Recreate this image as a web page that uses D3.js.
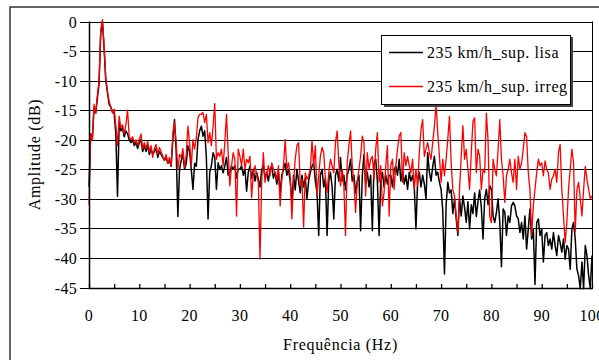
<!DOCTYPE html>
<html><head><meta charset="utf-8">
<script src="https://cdn.jsdelivr.net/npm/d3@7"></script>
<style>html,body{margin:0;padding:0;background:#fff;}svg{display:block;}</style>
</head><body>
<svg id="chart" width="599" height="360"></svg>
<script>
const freqStep = 1/3; // Hz between samples
const seriesNames = ["235 km/h_sup. lisa", "235 km/h_sup. irreg"];
const xTicks = [0,10,20,30,40,50,60,70,80,90,100];
const yTicks = [0,-5,-10,-15,-20,-25,-30,-35,-40,-45];
const xLabel = "Frequência (Hz)";
const yLabel = "Amplitude (dB)";

const lisa = [
-28,-19,-20,-14.5,-15.5,-13,-10.5,-2,0,-4.5,-10,-12,-14,-14.5,-15.2,-15.5,-19,-29.6,-17,-18.5,-18,-19.5,-18.5,-19,-20,-20.5,-20,-21,-20.5,-21.5,
-20.5,-20,-22,-21,-22,-21,-22.5,-21.5,-22.5,-22,-21.5,-23,-22,-22.5,-23,-23.5,-23,-24,-23.5,-24.5,-20,-16.6,-22,-33,-25,-23.5,-22.5,-25,-24,-21,
-22,-25,-28.4,-24,-24.5,-20,-18.5,-17.7,-19.4,-18.5,-23,-33.4,-25.5,-24.4,-22.2,-23,-28.4,-23.9,-25,-24.4,-25.6,-24.4,-23,-26,-25.5,-24.4,-25,-24.4,-26.5,-25,
-25,-24.4,-26,-25,-28.7,-25.5,-24.5,-26.5,-25,-27,-25.5,-26.7,-28,-25,-24.4,-26.5,-25.5,-27,-25,-24.5,-26.5,-25.5,-27.5,-25.5,-29,-26,-25,-24,-26,-25,
-27,-30.5,-26,-28.5,-25,-27,-29,-26,-28,-26.5,-30,-27,-25.5,-24.5,-23.9,-27,-29,-36.2,-26,-25,-28,-26.5,-36.2,-27,-25.5,-28,-33.4,-26,-25,-27,
-23,-27,-26,-28.5,-26,-25,-23.3,-27,-26,-29,-27,-26,-35.4,-26,-22.5,-27.5,-25.5,-28,-26,-35.4,-24,-23.3,-27,-36.2,-27,-25.5,-28,-26,-27.5,-26,
-26,-28,-25,-24.5,-26,-23.3,-27,-25,-27.5,-26,-28.4,-25.5,-27,-26,-28,-35.1,-27,-25.5,-28,-26,-27.5,-30,-22.2,-25.5,-27,-24.5,-22.8,-26,-25.5,-27.2,
-28.4,-32,-42.7,-31,-27.2,-29,-28.5,-32.5,-30,-33.4,-36.2,-30,-32.9,-29.5,-31.5,-34,-30.5,-35.1,-31,-32.5,-29,-33,-30.5,-28.5,-31.5,-36.8,-30,-28.4,-31,-27.8,
-28.4,-32.9,-34,-32.3,-30,-34,-41.5,-31.7,-32.3,-36.2,-32.9,-34,-31.2,-30.6,-31.2,-32.9,-33.4,-35.7,-34,-36.8,-32.9,-38.5,-35.1,-31.7,-36.8,-35.1,-44.5,-34,-33.4,-36.2,
-35.1,-40.7,-36.2,-35.7,-37.9,-36.8,-38.5,-35.7,-37.9,-39.6,-36.2,-37.4,-39,-36.8,-40.2,-37.9,-38.5,-41.9,-35.1,-34,-36.8,-41.9,-43,-45.2,-40.7,-45.2,-37.9,-39.6,-43,-45.2,-39.6
];

const irreg = [
-31,-19,-20,-14,-15.5,-12.5,-10,-1.5,0.3,-4,-9.5,-11.8,-13.5,-14.5,-15.5,-14.8,-17.5,-21,-16,-18,-17.5,-19,-17.5,-15,-19.5,-20,-19.5,-20.5,-20,-21,
-20,-19,-21.5,-20.5,-21.5,-20.3,-22,-21,-23,-21.5,-20.8,-22.5,-21.3,-22,-22.8,-23.5,-22.5,-24,-23,-24.4,-19,-17,-20.5,-25,-22.5,-23,-21.5,-24.7,-22.5,-17.7,
-20.5,-24.4,-20,-21.6,-19.7,-16.3,-15.7,-15.7,-15.4,-17.1,-15.7,-20.5,-18.8,-21,-17.7,-13.9,-23.3,-22.2,-22.8,-21.6,-24.4,-20.5,-15.7,-22.2,-27.8,-24.4,-22.2,-23.3,-32.9,-21.6,
-22.8,-24.4,-21.6,-25,-23.3,-23.9,-22.8,-29.8,-25.6,-24.4,-26.1,-27.2,-40.2,-27.2,-22.2,-27.2,-25.6,-24.4,-26.1,-23.9,-25,-25.6,-26.7,-24.4,-31.2,-26.7,-24.4,-20,-25,-23.9,
-26.1,-33.4,-27.2,-23.3,-21,-20.5,-27.8,-26.7,-34.8,-25.6,-26.7,-26.1,-25,-20.2,-24.4,-21,-29.5,-26.1,-22.8,-21.3,-22.2,-26.7,-28.9,-25.6,-23.3,-24.4,-25.6,-20.5,-18.5,-23.9,
-27.8,-25,-27.8,-36.2,-23.9,-21,-18.5,-24.4,-27.2,-32.3,-27.2,-25,-22.8,-19.4,-20.5,-29.5,-22.2,-25,-23.3,-22.8,-26.7,-21.6,-18.8,-27.2,-24.4,-31.2,-28.9,-24.4,-21,-32.9,
-24.4,-23.3,-28.4,-24.4,-21.6,-19.4,-18.8,-27.2,-22.2,-24.4,-22.8,-24.4,-25.6,-23.3,-28.4,-25,-27.8,-22.2,-18.3,-16.6,-22.8,-21.6,-20.5,-22.2,-23.3,-20.5,-17.7,-14,-18.8,-22.8,
-27.2,-23.3,-26.1,-23.3,-19.9,-16,-23.9,-28.4,-29.5,-32.9,-35.7,-28.4,-22.8,-17.6,-23.3,-21.6,-25,-28.4,-22.2,-16.9,-16.3,-25.6,-21.6,-22.8,-28.4,-25,-25.6,-15.5,-20,-33,
-34,-23.3,-25,-26.1,-21.6,-16.6,-23.3,-26.1,-30.6,-26.1,-25,-23.3,-25.6,-27.2,-23.3,-28.4,-22.8,-25,-23.9,-21.6,-18.8,-19.5,-25.6,-28.4,-36.2,-31.2,-28.4,-25.6,-23.3,-24.4,
-23.9,-26.1,-23.6,-25,-25.6,-28.4,-26.7,-26.1,-25,-27.2,-22.2,-20.8,-28.4,-32.9,-37.4,-34,-28.4,-25,-21.6,-23.9,-35.7,-28.4,-27.2,-30,-32.9,-28.4,-24.5,-26.7,-28.4,-30,-29.5
];

const seriesColors = ["#000000", "#ff0000"];
const font = "'Liberation Serif','Times New Roman','DejaVu Serif',serif";

const svg = d3.select("#chart");
const plot = {left: 89, right: 592, top: 21.5, bottom: 287.5};

// outer frame
svg.append("rect").attr("x", 10).attr("y", 7).attr("width", 620).attr("height", 380)
  .attr("fill", "#fff").attr("stroke", "#333").attr("stroke-width", 1.5);

const x = d3.scaleLinear().domain([0, 100]).range([plot.left, plot.right]);
const y = d3.scaleLinear().domain([-45, 0]).range([plot.bottom, plot.top]);

// gridlines + y ticks
const gy = svg.append("g");
yTicks.forEach(t => {
  const yy = Math.round(y(t)) + 0.5;
  gy.append("line").attr("x1", plot.left - 9).attr("x2", plot.right)
    .attr("y1", yy).attr("y2", yy).attr("stroke", "#000").attr("stroke-width", 1);
  gy.append("text").attr("x", 77).attr("y", yy).attr("dy", "0.35em")
    .attr("text-anchor", "end").attr("font-family", font).attr("font-size", 16)
    .attr("letter-spacing", 0.3).attr("fill", "#000").text(t);
});

// right border of plot
svg.append("line").attr("x1", plot.right + 0.5).attr("x2", plot.right + 0.5)
  .attr("y1", plot.top).attr("y2", plot.bottom).attr("stroke", "#000").attr("stroke-width", 1);

// x axis
const xAxis = d3.axisBottom(x).tickValues(d3.range(0, 101, 5)).tickSize(0).tickFormat("");
const gx = svg.append("g").attr("transform", `translate(0,${Math.round(plot.bottom)})`).call(xAxis);
gx.select(".domain").remove();
gx.selectAll(".tick").append("line").attr("y1", 0).attr("y2", -4).attr("stroke", "#000").attr("stroke-width", 1.3);
xTicks.forEach(t => {
  svg.append("text").attr("x", x(t)).attr("y", 321).attr("text-anchor", "middle")
    .attr("font-family", font).attr("font-size", 16).attr("letter-spacing", 0.3)
    .attr("fill", "#000").text(t);
});

// series
const line = d3.line().x((d, i) => x(i * freqStep)).y(d => y(d));
[lisa, irreg].forEach((s, k) => {
  svg.append("path").datum(s).attr("d", line).attr("fill", "none")
    .attr("stroke", seriesColors[k]).attr("stroke-width", k === 0 ? 1.5 : 1.3)
    .attr("stroke-linejoin", "round");
});

// axes lines
svg.append("line").attr("x1", plot.left + 0.5).attr("x2", plot.left + 0.5)
  .attr("y1", plot.top).attr("y2", plot.bottom + 0.5).attr("stroke", "#000").attr("stroke-width", 1.5);
svg.append("line").attr("x1", plot.left).attr("x2", plot.right + 1)
  .attr("y1", Math.round(plot.bottom) + 0.5).attr("y2", Math.round(plot.bottom) + 0.5)
  .attr("stroke", "#000").attr("stroke-width", 1.5);

// axis titles
svg.append("text").attr("x", x(50)).attr("y", 350).attr("text-anchor", "middle")
  .attr("font-family", font).attr("font-size", 16).attr("letter-spacing", 0.7)
  .attr("fill", "#000").text(xLabel);
svg.append("text").attr("transform", `translate(40,${(plot.top + plot.bottom) / 2}) rotate(-90)`)
  .attr("text-anchor", "middle").attr("font-family", font).attr("font-size", 16)
  .attr("letter-spacing", 0.7).attr("fill", "#000").text(yLabel);

// legend
const lg = svg.append("g");
lg.append("rect").attr("x", 384).attr("y", 37).attr("width", 189).attr("height", 70).attr("fill", "#444");
lg.append("rect").attr("x", 381.5).attr("y", 35.5).attr("width", 189).attr("height", 69)
  .attr("fill", "#fff").attr("stroke", "#000").attr("stroke-width", 1);
const ly = [52.5, 86.5];
seriesNames.forEach((n, k) => {
  lg.append("line").attr("x1", 389).attr("x2", 423).attr("y1", ly[k]).attr("y2", ly[k])
    .attr("stroke", seriesColors[k]).attr("stroke-width", 1.5);
  lg.append("text").attr("x", 427).attr("y", ly[k]).attr("dy", "0.35em")
    .attr("font-family", font).attr("font-size", 16).attr("letter-spacing", 0.6)
    .attr("fill", "#000").text(n);
});
</script>
</body></html>
